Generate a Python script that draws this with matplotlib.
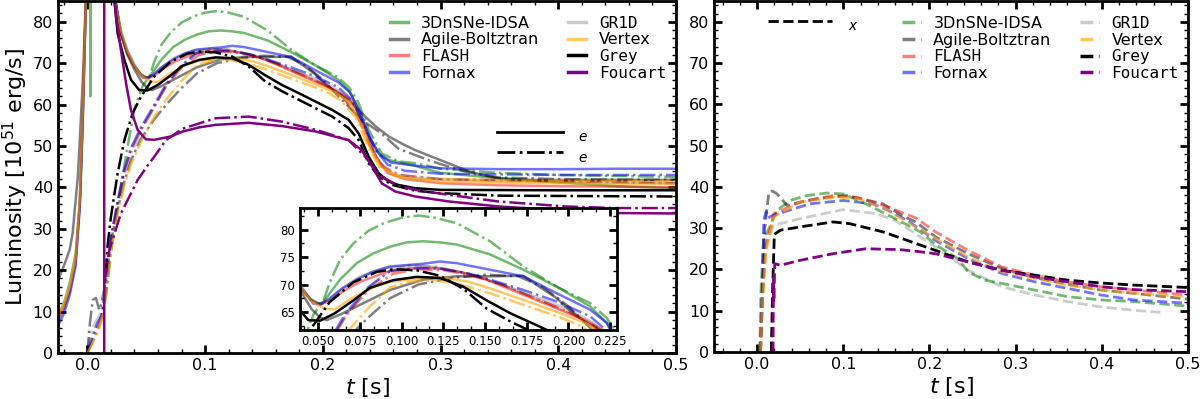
import matplotlib
matplotlib.use('Agg')
import matplotlib.pyplot as plt
from matplotlib.lines import Line2D
from matplotlib.ticker import MultipleLocator, AutoMinorLocator

codes = ['3DnSNe-IDSA', 'Agile-Boltztran', 'FLASH', 'Fornax', 'GR1D', 'Vertex', 'Grey', 'Foucart']
mono_codes = ['FLASH', 'GR1D', 'Grey', 'Foucart']
colors = ['#008000', '#000000', '#ff0000', '#0000ff', '#000000', '#ffa500', '#000000', '#800080']
alphas = [0.55, 0.5, 0.5, 0.55, 0.2, 0.6, 1.0, 1.0]

# ---------------- electron neutrinos (solid) ----------------
t_IDSA_e = [-0.025, -0.02, -0.015, -0.01, -0.006, -0.004, -0.001, 0.0, 0.0022, 0.0025, 0.0028, 0.015, 0.022, 0.0285, 0.034, 0.04, 0.0455, 0.05, 0.053, 0.063, 0.073, 0.083, 0.093, 0.103, 0.113, 0.123, 0.133, 0.153, 0.173, 0.193, 0.213, 0.223, 0.2305, 0.239, 0.2475, 0.256, 0.2785, 0.3, 0.35, 0.4, 0.45, 0.5]
L_IDSA_e = [9, 12, 17, 24, 38, 55, 88, 300, 300, 62, 300, 300, 88, 77, 72.4, 69.2, 67.3, 66.5, 66.8, 70.9, 73.9, 75.7, 76.9, 77.7, 77.9, 77.7, 77.3, 75.5, 72.7, 69.6, 66, 63, 58.7, 52.3, 48.2, 46.6, 45.2, 43.5, 42.2, 41.2, 40.3, 39.8]

t_Agile_e = [-0.025, -0.02, -0.015, -0.0125, -0.008, -0.004, -0.001, 0.0, 0.015, 0.022, 0.0285, 0.034, 0.04, 0.046, 0.051, 0.055, 0.063, 0.073, 0.083, 0.093, 0.113, 0.133, 0.153, 0.173, 0.183, 0.193, 0.2, 0.21, 0.222, 0.233, 0.245, 0.256, 0.267, 0.2785, 0.2926, 0.307, 0.321, 0.335, 0.349, 0.377, 0.45, 0.5]
L_Agile_e = [17.5, 21, 25, 29, 43, 65, 88, 300, 300, 88, 77, 72, 68.5, 65.5, 64, 63.5, 64.5, 66, 67.5, 69, 70.9, 71.5, 71.5, 71.6, 69.5, 67.5, 65.5, 63.2, 61.1, 57.9, 54.7, 52.3, 50.6, 49, 47.4, 45.8, 44.2, 43, 42.2, 41.8, 41.8, 41.8]

t_FLASH_e = [-0.025, -0.02, -0.015, -0.01, -0.0065, -0.004, -0.001, 0.0, 0.015, 0.022, 0.0285, 0.034, 0.04, 0.0455, 0.051, 0.057, 0.065, 0.075, 0.09, 0.105, 0.12, 0.135, 0.15, 0.17, 0.19, 0.21, 0.225, 0.235, 0.245, 0.255, 0.27, 0.3, 0.35, 0.4, 0.5]
L_FLASH_e = [8, 11, 15, 22, 36, 57, 88, 300, 300, 88, 77, 72.4, 69.2, 67.1, 66.3, 67, 68.8, 70.5, 72.2, 73, 73, 72.3, 71, 68.5, 66, 63.5, 61, 55, 47.5, 43.5, 42, 41, 40.5, 40.3, 40]

t_Fornax_e = [-0.025, -0.02, -0.015, -0.01, -0.0065, -0.004, -0.001, 0.0, 0.015, 0.022, 0.0285, 0.034, 0.04, 0.047, 0.052, 0.057, 0.063, 0.073, 0.083, 0.093, 0.113, 0.123, 0.133, 0.143, 0.153, 0.173, 0.193, 0.213, 0.223, 0.232, 0.24, 0.248, 0.258, 0.28, 0.3, 0.35, 0.4, 0.45, 0.5]
L_Fornax_e = [6.5, 9.5, 14, 21, 35, 56, 88, 300, 300, 88, 77.5, 73, 69.5, 66.5, 66.5, 67.5, 69, 70.9, 72.4, 73.3, 73.8, 74.2, 73.9, 73.3, 72.7, 71.5, 68.4, 65.4, 63, 58, 52, 48, 46, 45.2, 44.6, 44.4, 44.4, 44.5, 44.5]

t_GR1D_e = [-0.025, -0.02, -0.015, -0.01, -0.0065, -0.004, -0.001, 0.0, 0.015, 0.022, 0.0285, 0.034, 0.04, 0.0455, 0.051, 0.057, 0.065, 0.075, 0.09, 0.105, 0.12, 0.14, 0.16, 0.18, 0.2, 0.215, 0.228, 0.238, 0.248, 0.26, 0.28, 0.35, 0.5]
L_GR1D_e = [7.5, 10.5, 15, 22, 36, 57, 88, 300, 300, 88, 77, 72.4, 69.2, 67.3, 66.5, 67.3, 69.5, 71.5, 73, 73.5, 73.2, 72, 70, 67.8, 65.5, 63, 59, 52, 46, 43, 42, 41.5, 41]

t_Vertex_e = [-0.025, -0.02, -0.015, -0.01, -0.0065, -0.004, -0.001, 0.0, 0.015, 0.021, 0.0285, 0.034, 0.04, 0.0455, 0.051, 0.055, 0.06, 0.07, 0.083, 0.093, 0.113, 0.125, 0.14, 0.153, 0.173, 0.193, 0.21, 0.223, 0.233, 0.242, 0.25, 0.265, 0.2785, 0.3, 0.4, 0.5]
L_Vertex_e = [9, 12, 16, 23, 37, 58, 88, 300, 300, 88, 78, 73, 69.5, 67, 66, 65.5, 65.5, 67.5, 69.5, 70.5, 71.2, 71.3, 70.5, 69.3, 67.2, 65, 63, 60.5, 55, 48.5, 45, 42.5, 41.8, 41.3, 41, 40.8]

t_Grey_e = [0.015, 0.022, 0.0257, 0.0314, 0.037, 0.044, 0.0511, 0.0596, 0.071, 0.081, 0.095, 0.109, 0.123, 0.137, 0.151, 0.1655, 0.18, 0.194, 0.208, 0.222, 0.2305, 0.239, 0.2475, 0.256, 0.264, 0.2785, 0.3, 0.4, 0.5]
L_Grey_e = [300, 88, 77.2, 70.8, 66, 63.5, 63.4, 64.7, 67.1, 69.4, 70.8, 71.4, 71.2, 69.6, 67.1, 64.7, 62.7, 60.7, 58.7, 56.3, 53, 47.4, 43.4, 41.4, 40.6, 39.8, 39.4, 39.3, 39.3]

t_Foucart_e = [0.0143, 0.0144, 0.018, 0.0223, 0.0243, 0.0285, 0.0328, 0.037, 0.0427, 0.0497, 0.0568, 0.0709, 0.081, 0.095, 0.109, 0.137, 0.1655, 0.194, 0.222, 0.233, 0.242, 0.25, 0.2616, 0.2785, 0.307, 0.349, 0.4, 0.45, 0.5]
L_Foucart_e = [0, 300, 300, 88, 81.3, 73.2, 65.2, 58.7, 53.9, 51.6, 51.5, 52.3, 53.5, 54.5, 55.1, 55.6, 54.8, 53.5, 51.4, 49, 45, 41, 39, 37.8, 36.6, 35.4, 34.5, 33.8, 33.7]

# ---------------- electron antineutrinos (dash-dot) ----------------
t_IDSA_a = [0.0, 0.003, 0.008, 0.012, 0.016, 0.02, 0.026, 0.033, 0.04, 0.047, 0.053, 0.057, 0.063, 0.071, 0.08, 0.09, 0.1, 0.11, 0.12, 0.133, 0.153, 0.173, 0.193, 0.213, 0.223, 0.2305, 0.239, 0.25, 0.264, 0.28, 0.3, 0.35, 0.4, 0.5]
L_IDSA_a = [0, 2, 6, 9, 14, 24, 36, 48, 59, 64.5, 67, 70.5, 74.5, 77.5, 79.8, 81.3, 82.2, 82.6, 82.2, 81.2, 77.9, 73.3, 69.6, 66.6, 63.9, 60.3, 53.9, 48.2, 46.3, 45.8, 44.5, 43.5, 43, 42.5]

t_Agile_a = [0.0, 0.0018, 0.0045, 0.0073, 0.01, 0.012, 0.016, 0.02, 0.026, 0.031, 0.037, 0.045, 0.057, 0.067, 0.08, 0.093, 0.11, 0.13, 0.15, 0.17, 0.185, 0.2, 0.215, 0.233, 0.25, 0.264, 0.2785, 0.2926, 0.321, 0.349, 0.4, 0.5]
L_Agile_a = [0, 6.4, 12.8, 13.3, 10.4, 12, 18, 27, 35, 41, 46.5, 51.5, 56.5, 60, 64, 67.5, 70, 71.2, 71.8, 71.5, 69.5, 66, 61.5, 56.3, 53, 49.4, 47.8, 46.3, 43.8, 42.4, 42, 41.8]

t_FLASH_a = [0.0, 0.003, 0.008, 0.012, 0.016, 0.02, 0.026, 0.031, 0.037, 0.0455, 0.057, 0.067, 0.08, 0.095, 0.11, 0.125, 0.14, 0.16, 0.18, 0.2, 0.215, 0.23, 0.24, 0.25, 0.265, 0.3, 0.4, 0.5]
L_FLASH_a = [0, 2, 5, 8, 16, 28, 37, 43.4, 49, 54, 59.5, 64.5, 69, 72, 72.8, 72.6, 71.8, 70, 67.5, 65, 62.5, 57, 50, 45, 43, 42, 41.5, 41]

t_Fornax_a = [0.0, 0.003, 0.008, 0.012, 0.016, 0.02, 0.026, 0.031, 0.037, 0.0455, 0.057, 0.067, 0.08, 0.093, 0.11, 0.123, 0.14, 0.153, 0.173, 0.193, 0.213, 0.225, 0.235, 0.245, 0.255, 0.27, 0.3, 0.4, 0.5]
L_Fornax_a = [0, 3, 7, 9, 16, 28, 37, 44, 49.5, 54.5, 60, 65, 69.5, 72.5, 73, 72.9, 72, 70.9, 69, 66.9, 64.2, 61, 55, 49, 45.5, 44, 43.3, 43, 43]

t_GR1D_a = [0.0, 0.002, 0.006, 0.01, 0.014, 0.018, 0.022, 0.026, 0.031, 0.037, 0.0455, 0.057, 0.067, 0.08, 0.093, 0.105, 0.12, 0.14, 0.16, 0.18, 0.2, 0.215, 0.23, 0.24, 0.25, 0.265, 0.3, 0.4, 0.5]
L_GR1D_a = [0, 4, 7, 9, 13, 22, 30, 36, 42.5, 48, 53.5, 59.5, 64.5, 69.5, 72.5, 73.5, 73.3, 72, 70, 67.5, 65, 62.5, 57, 50, 45.5, 43, 42, 41.5, 41]

t_Vertex_a = [0.0, 0.004, 0.01, 0.014, 0.018, 0.022, 0.026, 0.031, 0.037, 0.0455, 0.053, 0.06, 0.07, 0.081, 0.093, 0.105, 0.12, 0.135, 0.153, 0.173, 0.193, 0.205, 0.215, 0.228, 0.238, 0.248, 0.26, 0.28, 0.35, 0.5]
L_Vertex_a = [0, 2, 6, 10, 20, 28, 34, 40, 45.5, 51, 55, 58.5, 62.3, 66, 69.5, 70.5, 70.8, 70, 68.4, 66.3, 64.2, 62.8, 61, 57, 50, 45, 43, 42.2, 41.7, 41.5]

t_Grey_a = [0.0155, 0.0172, 0.02, 0.0257, 0.0314, 0.0384, 0.0455, 0.0568, 0.071, 0.085, 0.095, 0.109, 0.123, 0.137, 0.151, 0.1655, 0.18, 0.194, 0.208, 0.222, 0.2305, 0.239, 0.2475, 0.259, 0.2785, 0.3, 0.35, 0.5]
L_Grey_a = [19, 26, 32.9, 43.4, 51.4, 57.9, 61.9, 66.8, 70.4, 72.3, 72.8, 72.6, 71.6, 69.2, 65.6, 63.2, 61.1, 59.1, 57.1, 54.3, 51.4, 45.8, 42.6, 40.6, 39.2, 38.6, 38, 37.8]

t_Foucart_a = [0.0144, 0.0186, 0.0285, 0.0427, 0.0525, 0.0568, 0.0667, 0.081, 0.109, 0.137, 0.165, 0.194, 0.222, 0.236, 0.25, 0.264, 0.2785, 0.307, 0.349, 0.406, 0.448, 0.5]
L_Foucart_a = [16.8, 24.9, 33.7, 41.8, 45.8, 47.4, 51.4, 54.2, 56.7, 57.1, 55.9, 53.9, 51.4, 47.4, 42.6, 40.4, 39.4, 38.2, 36.6, 35.4, 35, 35]

# ---------------- heavy-lepton neutrinos (dashed) ----------------
t_IDSA_x = [0.003, 0.0045, 0.0077, 0.012, 0.0231, 0.0384, 0.0576, 0.0806, 0.1, 0.126, 0.164, 0.19, 0.207, 0.233, 0.245, 0.264, 0.284, 0.322, 0.36, 0.399, 0.437, 0.5]
L_IDSA_x = [0, 15, 27.9, 29, 34.3, 36.7, 37.9, 38.5, 38.3, 35.9, 31.9, 29, 26, 22.6, 19.4, 17.4, 16.6, 15, 13.4, 12.6, 12.2, 11.1]

t_Agile_x = [0.004, 0.0058, 0.009, 0.0135, 0.0173, 0.022, 0.0269, 0.0346, 0.05, 0.069, 0.1037, 0.146, 0.168, 0.184, 0.207, 0.245, 0.284, 0.322, 0.36, 0.399, 0.437, 0.5]
L_Agile_x = [0, 10, 30, 38.5, 39, 38.5, 37.5, 35.5, 36.3, 37.1, 37.9, 35.9, 33.1, 31.5, 27.9, 23.8, 20.2, 18, 16.4, 15, 14.2, 12.8]

t_FLASH_x = [0.004, 0.006, 0.01, 0.0192, 0.05, 0.088, 0.115, 0.146, 0.168, 0.184, 0.207, 0.245, 0.284, 0.322, 0.36, 0.399, 0.437, 0.5]
L_FLASH_x = [0, 12, 25, 33.5, 36.3, 37.9, 37.5, 35.5, 33.8, 32.5, 29.1, 24.6, 20.6, 18.6, 17, 15.8, 15, 13.8]

t_Fornax_x = [0.004, 0.0065, 0.0077, 0.0105, 0.013, 0.0173, 0.0307, 0.0614, 0.1, 0.134, 0.15, 0.175, 0.207, 0.245, 0.284, 0.322, 0.36, 0.399, 0.437, 0.5]
L_Fornax_x = [0, 20, 31.9, 34, 32.5, 33, 33.9, 35.9, 36.7, 35.9, 34.5, 31.8, 27, 22.6, 19, 17, 15.4, 13.8, 12.6, 11.8]

t_GR1D_x = [0.004, 0.006, 0.01, 0.0192, 0.05, 0.1, 0.138, 0.16, 0.184, 0.207, 0.245, 0.284, 0.322, 0.36, 0.399, 0.437, 0.468]
L_GR1D_x = [0, 15, 26, 30.7, 32.3, 34.5, 33.5, 31.9, 28.6, 25.4, 19.8, 15.8, 13.8, 12.2, 10.9, 10.1, 9.6]

t_Vertex_x = [0.004, 0.006, 0.01, 0.0192, 0.05, 0.09, 0.115, 0.146, 0.168, 0.207, 0.245, 0.284, 0.322, 0.36, 0.399, 0.437, 0.5]
L_Vertex_x = [0, 12, 24, 32.7, 36.3, 37.5, 37.2, 35, 32.2, 27.5, 23, 19.4, 17.8, 16.2, 15, 14.2, 13.4]

t_Grey_x = [0.0165, 0.018, 0.02, 0.027, 0.05, 0.088, 0.107, 0.146, 0.168, 0.184, 0.207, 0.245, 0.284, 0.322, 0.36, 0.399, 0.437, 0.5]
L_Grey_x = [0, 15, 28.5, 29.5, 30.3, 31.5, 31.1, 29.1, 27.5, 26.3, 24.6, 21.8, 19.8, 18.6, 17.4, 16.7, 16.2, 15.6]

t_Foucart_x = [0.0185, 0.019, 0.0195, 0.0205, 0.027, 0.05, 0.088, 0.126, 0.165, 0.184, 0.207, 0.245, 0.284, 0.322, 0.36, 0.399, 0.437, 0.5]
L_Foucart_x = [0, 18, 12, 21.4, 21, 22.2, 23.8, 25, 24.8, 24.4, 23.8, 21.8, 19.8, 18.2, 17, 15.8, 15.1, 14.6]

series_e = [(t_IDSA_e, L_IDSA_e), (t_Agile_e, L_Agile_e), (t_FLASH_e, L_FLASH_e), (t_Fornax_e, L_Fornax_e),
            (t_GR1D_e, L_GR1D_e), (t_Vertex_e, L_Vertex_e), (t_Grey_e, L_Grey_e), (t_Foucart_e, L_Foucart_e)]
series_a = [(t_IDSA_a, L_IDSA_a), (t_Agile_a, L_Agile_a), (t_FLASH_a, L_FLASH_a), (t_Fornax_a, L_Fornax_a),
            (t_GR1D_a, L_GR1D_a), (t_Vertex_a, L_Vertex_a), (t_Grey_a, L_Grey_a), (t_Foucart_a, L_Foucart_a)]
series_x = [(t_IDSA_x, L_IDSA_x), (t_Agile_x, L_Agile_x), (t_FLASH_x, L_FLASH_x), (t_Fornax_x, L_Fornax_x),
            (t_GR1D_x, L_GR1D_x), (t_Vertex_x, L_Vertex_x), (t_Grey_x, L_Grey_x), (t_Foucart_x, L_Foucart_x)]

plt.rcParams['font.family'] = ['DejaVu Sans']
plt.rcParams['mathtext.fontset'] = 'dejavusans'

fig = plt.figure(figsize=(12, 3.99), dpi=100)
ax1 = fig.add_axes([0.0483, 0.1153, 0.515, 0.882])
ax2 = fig.add_axes([0.595, 0.118, 0.395, 0.879])
axin = fig.add_axes([0.25, 0.173, 0.264, 0.306])


def style_axis(ax, xmaj, xmin_n, ymaj, ymin_n, lsize):
    ax.xaxis.set_major_locator(MultipleLocator(xmaj))
    ax.xaxis.set_minor_locator(AutoMinorLocator(xmin_n))
    ax.yaxis.set_major_locator(MultipleLocator(ymaj))
    ax.yaxis.set_minor_locator(AutoMinorLocator(ymin_n))
    ax.tick_params(which='both', direction='in', top=True, right=True, labelsize=lsize)
    ax.tick_params(which='major', length=6, width=2)
    ax.tick_params(which='minor', length=3, width=1)
    for s in ax.spines.values():
        s.set_linewidth(2)


lw_l = 1.8
handles_e = []
for i, name in enumerate(codes):
    te, Le = series_e[i]
    ta, La = series_a[i]
    h, = ax1.plot(te, Le, '-', color=colors[i], alpha=alphas[i], lw=lw_l, label=name)
    handles_e.append(h)
    ax1.plot(ta, La, '-.', color=colors[i], alpha=alphas[i], lw=lw_l)
    axin.plot(te, Le, '-', color=colors[i], alpha=alphas[i], lw=lw_l)
    axin.plot(ta, La, '-.', color=colors[i], alpha=alphas[i], lw=lw_l)

handles_x = []
for i, name in enumerate(codes):
    tx, Lx = series_x[i]
    h, = ax2.plot(tx, Lx, '--', color=colors[i], alpha=alphas[i], lw=2.0, label=name)
    handles_x.append(h)

ax1.set_xlim(-0.025, 0.5)
ax1.set_ylim(0, 85)
ax2.set_xlim(-0.05, 0.5)
ax2.set_ylim(0, 85)
axin.set_xlim(0.039, 0.229)
axin.set_ylim(61.7, 84)

style_axis(ax1, 0.1, 5, 10, 5, 11.5)
style_axis(ax2, 0.1, 5, 10, 5, 11.5)
style_axis(axin, 0.025, 3, 5, 2, 8.5)
axin.set_facecolor('white')

ax1.set_ylabel('Luminosity [$10^{51}$ erg/s]', fontsize=16, labelpad=2)
ax1.set_xlabel('$t$ [s]', fontsize=16, labelpad=2)
ax2.set_xlabel('$t$ [s]', fontsize=16, labelpad=2)

leg_kw = dict(ncol=2, frameon=False, fontsize=11.5, handlelength=1.15, handletextpad=0.8,
              columnspacing=1.8, labelspacing=0.1, borderpad=0, borderaxespad=0, loc='upper left')

leg1 = ax1.legend(handles=handles_e, bbox_to_anchor=(0.537, 0.958), **leg_kw)
for txt, hl in zip(leg1.get_texts(), leg1.legend_handles):
    if txt.get_text() in mono_codes:
        txt.set_family('DejaVu Sans Mono')
    hl.set_linewidth(2.5)
ax1.add_artist(leg1)

nu_handles = [Line2D([], [], color='k', ls='-', lw=2), Line2D([], [], color='k', ls='-.', lw=2)]
leg1b = ax1.legend(handles=nu_handles, labels=[r'$_e$', r'$_e$'], frameon=False, fontsize=14,
                   handlelength=3.4, handletextpad=0.8, labelspacing=0.0, borderpad=0, borderaxespad=0,
                   loc='upper left', bbox_to_anchor=(0.71, 0.652))

leg2 = ax2.legend(handles=handles_x, bbox_to_anchor=(0.397, 0.958), **leg_kw)
for txt, hl in zip(leg2.get_texts(), leg2.legend_handles):
    if txt.get_text() in mono_codes:
        txt.set_family('DejaVu Sans Mono')
    hl.set_linewidth(2.5)
ax2.add_artist(leg2)

leg2b = ax2.legend(handles=[Line2D([], [], color='k', ls='--', lw=2)], labels=[r'$_x$'], frameon=False,
                   fontsize=14, handlelength=3.3, handletextpad=0.8, borderpad=0, borderaxespad=0,
                   loc='upper left', bbox_to_anchor=(0.114, 0.968))

fig.savefig('out.png', dpi=100)
